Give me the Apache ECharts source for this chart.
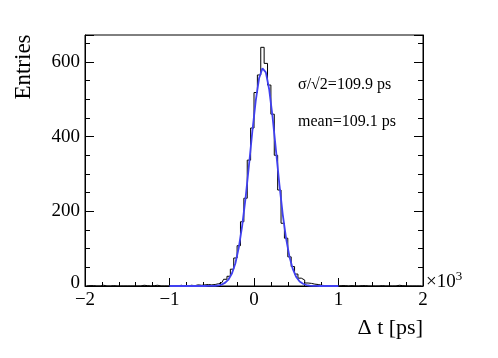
<!DOCTYPE html>
<html>
<head>
<meta charset="utf-8">
<script src="https://cdn.jsdelivr.net/npm/echarts@6/dist/echarts.min.js"></script>
<style>
html,body{margin:0;padding:0;background:#fff}
#main{width:498px;height:358px}
</style>
</head>
<body>
<div id="main"></div>
<script>
// histogram: 100 bins of 40 ps between -2000 and 2000 ps
var binLow = -2000;
var binWidth = 40;
var counts = [
  0,1,1,0,0,2,0,0,1,0,
  0,0,0,0,0,0,0,2,1,0,
  1,2,0,0,0,0,1,0,2,0,
  0,2,1,3,2,3,4,3,4,6,
  9,18,26,45,75,108,172,235,337,423,
  518,565,639,596,538,460,350,257,168,128,
  78,52,32,21,16,8,7,5,4,2,
  1,0,1,0,0,1,1,0,1,0,
  0,1,1,0,0,0,0,1,0,0,
  0,0,2,1,0,0,0,0,0,0
];

// gaussian fit, drawn from -1000 to 1000 ps
var fitX = [-1000,-980,-940,-900,-860,-820,-780,-740,-700,-660,-620,-580,
  -540,-500,-460,-420,-380,-340,-300,-260,-220,-180,-140,-100,-60,-20,
  20,60,100,140,180,220,260,300,340,380,420,460,500,540,580,620,660,700,740,
  780,820,860,900,940,980,1000];
var fitY = [0,0,0,0,0,0,0,0,0,0,0,0,
  0.08,0.25,0.7,1.7,4,9,18,34,61,103,161,235,322,413,
  495,556,583,572,526,452,363,273,192,127,78,45,24,12,6,2.6,1.0,0.4,0.1,
  0,0,0,0,0,0,0];

var yTicks = [0, 200, 400, 600];
var xTicks = [-2, -1, 0, 1, 2];  // x 10^3 ps

var histData = [];
for (var i = 0; i < counts.length; i++) {
  histData.push([binLow + binWidth * (i + 0.5), counts[i]]);
}
var fitData = [];
for (var j = 0; j < fitX.length; j++) {
  fitData.push([fitX[j], fitY[j]]);
}

var serif = 'Liberation Serif';
var chart = echarts.init(document.getElementById('main'), null, {renderer: 'canvas'});

var yAxisBase = function(pos, showLabel) {
  return {
    type: 'value',
    position: pos,
    min: 0,
    max: 672,
    interval: 200,
    axisLine: {show: true, onZero: false, lineStyle: {color: '#000', width: 1}},
    axisTick: {show: true, inside: true, length: 9, lineStyle: {color: '#000'}},
    minorTick: {show: true, splitNumber: 4, length: 5, lineStyle: {color: '#000'}},
    axisLabel: {
      show: showLabel,
      showMaxLabel: false,
      margin: 5,
      fontFamily: serif,
      fontSize: 19,
      color: '#000',
      formatter: function(v) {
        if (yTicks.indexOf(v) < 0) return '';
        return v === 0 ? '{z|0}' : String(v);
      },
      rich: {
        z: {fontFamily: serif, fontSize: 19, color: '#000', padding: [0, 0, 6, 0]}
      }
    },
    splitLine: {show: false},
    minorSplitLine: {show: false}
  };
};

chart.setOption({
  animation: false,
  backgroundColor: '#fff',
  grid: {left: 85, right: 75, top: 35, bottom: 72, show: true, borderColor: '#000', borderWidth: 1},
  xAxis: {
    type: 'value',
    min: -2000,
    max: 2000,
    interval: 1000,
    axisLine: {show: true, onZero: false, lineStyle: {color: '#000', width: 1}},
    axisTick: {show: true, inside: true, length: 8, lineStyle: {color: '#000'}},
    minorTick: {show: true, splitNumber: 5, length: 4, lineStyle: {color: '#000'}},
    axisLabel: {
      margin: 5,
      fontFamily: serif,
      fontSize: 19,
      color: '#000',
      formatter: function(v) {
        var k = v / 1000;
        if (xTicks.indexOf(k) < 0) return '';
        return k < 0 ? '\u2212' + (-k) : String(k);
      }
    },
    splitLine: {show: false}
  },
  yAxis: [yAxisBase('left', true), yAxisBase('right', false)],
  series: [
    {
      name: 'data',
      type: 'line',
      step: 'middle',
      data: histData,
      symbol: 'none',
      lineStyle: {color: '#000', width: 1},
      z: 2
    },
    {
      name: 'fit',
      type: 'line',
      data: fitData,
      symbol: 'none',
      smooth: false,
      lineStyle: {color: '#4040f0', width: 1.8},
      z: 3
    }
  ],
  graphic: [
    {
      type: 'text', x: 24, y: 67, rotation: Math.PI / 2,
      style: {text: 'Entries', fontFamily: serif, fontSize: 23, fill: '#000', align: 'center', verticalAlign: 'middle'}
    },
    {
      type: 'text', x: 423, y: 328,
      style: {text: '\u0394 t [ps]', fontFamily: serif, fontSize: 22, fill: '#000', align: 'right', verticalAlign: 'middle'}
    },
    {
      type: 'text', x: 426, y: 281,
      style: {
        text: '{a|\u00d710}{b|3}',
        verticalAlign: 'middle',
        rich: {
          a: {fontFamily: serif, fontSize: 19, fill: '#000', verticalAlign: 'bottom'},
          b: {fontFamily: serif, fontSize: 13, fill: '#000', verticalAlign: 'top', padding: [0, 0, 8, 0]}
        }
      }
    },
    {
      type: 'text', x: 298, y: 85,
      style: {text: '\u03c3/\u221a2=109.9 ps', fontFamily: serif, fontSize: 16, fill: '#000', verticalAlign: 'middle'}
    },
    {
      type: 'text', x: 298, y: 122,
      style: {text: 'mean=109.1 ps', fontFamily: serif, fontSize: 16, fill: '#000', verticalAlign: 'middle'}
    }
  ]
});
</script>
</body>
</html>
